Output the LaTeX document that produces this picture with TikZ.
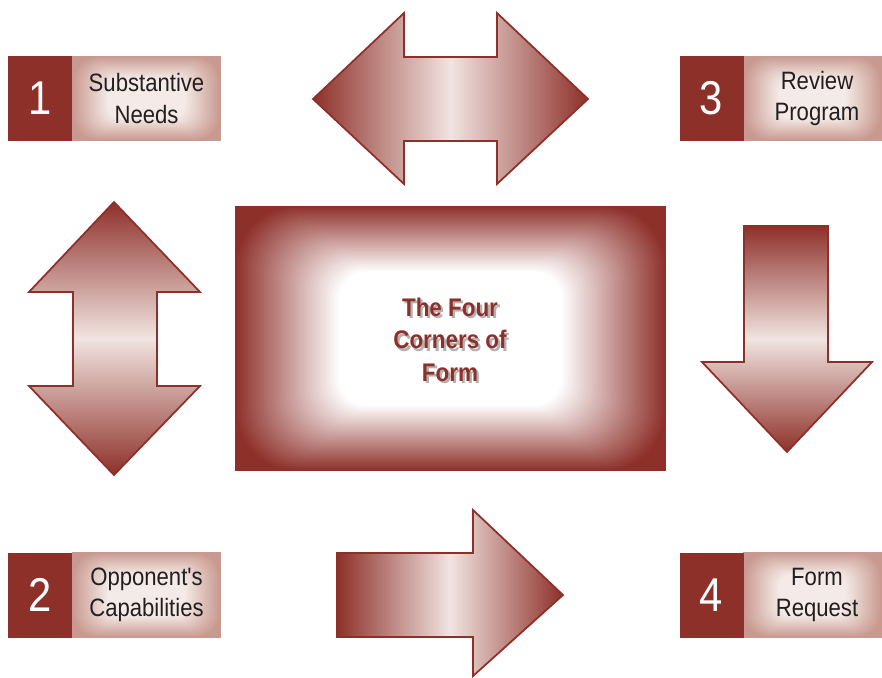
\documentclass[tikz,border=0pt]{standalone}
\usepackage{fontspec}
\usepackage{xcolor}
\usepackage{tikz}
\newfontfamily\narrow[FakeStretch=0.88]{Liberation Sans}
\definecolor{brick}{HTML}{8E302A}
\definecolor{blush}{HTML}{F1E4E0}
\definecolor{rosy}{HTML}{C8998E}
\definecolor{petal}{HTML}{F4EAE7}
\definecolor{ink}{HTML}{231F20}
\tikzset{
  bigarrow/.style={draw=brick, line width=1pt, line join=miter},
  numbox/.style={fill=brick, text=white, inner sep=0pt, minimum width=1.28cm, minimum height=1.7cm, font=\narrow\fontsize{27}{27}\selectfont},
  labeltext/.style={text=ink, align=center, font=\narrow\fontsize{14.3}{18}\selectfont},
  titletext/.style={align=center, font=\narrow\bfseries\fontsize{14.5}{18.5}\selectfont}
}
% rectangle fading from #7 at the rim to #8 inside
% #5/#6 = inset per step, #9 = corner radius (pt) of the outer rings
\newcommand{\glowbox}[9]{%
  \fill[#7] (#1,#2) rectangle (#3,#4);
  \foreach \i [evaluate=\i as \p using 100-1.25*\i, evaluate=\i as \r using #9*(1-\i/150)] in {1,...,80}
    \fill[#7!\p!#8, rounded corners=\r pt] (#1+#5*\i,#2+#6*\i) rectangle (#3-#5*\i,#4-#6*\i);%
}
% text with a soft grey shadow behind it
\newcommand{\soft}[1]{\makebox[0pt][l]{\kern1.3pt\raisebox{-1.3pt}{\color{black!30}#1}}#1}

\begin{document}
\begin{tikzpicture}[x=0.02cm, y=-0.02cm]
      \useasboundingbox (0,0) rectangle (882,677);
      % centre panel
      \glowbox{235}{206}{666}{471}{1.3}{0.82}{brick}{white}{34}
      \node[titletext, text=brick] (core) at (450,341) {\soft{The Four}\\\soft{Corners of}\\\soft{Form}};
      % numbered boxes
      \glowbox{72}{56}{221}{141}{0.45}{0.28}{rosy}{petal}{14}
      \node[numbox] (n1) at (40,98.5) {1};
      \node[labeltext] (l1) at (146.5,98.5) {Substantive\\Needs};
      \glowbox{743}{56}{882}{141}{0.45}{0.28}{rosy}{petal}{14}
      \node[numbox] (n3) at (711.5,98.5) {3};
      \node[labeltext] (l3) at (817,98.5) {Review\\Program};
      \glowbox{72}{552}{221}{638}{0.45}{0.28}{rosy}{petal}{14}
      \node[numbox] (n2) at (40,595) {2};
      \node[labeltext] (l2) at (146.5,595) {Opponent's\\Capabilities};
      \glowbox{743}{552}{882}{638}{0.45}{0.28}{rosy}{petal}{14}
      \node[numbox] (n4) at (711.5,595) {4};
      \node[labeltext] (l4) at (817,595) {Form\\Request};
      % block arrows
      \draw[bigarrow, left color=brick, right color=brick, middle color=blush]
        (313,99) -- (404,13) -- (404,57) -- (497,57) -- (497,13) -- (588,99)
        -- (497,184) -- (497,141) -- (404,141) -- (404,184) -- cycle;
      \draw[bigarrow, top color=brick, bottom color=brick, middle color=blush]
        (114,202) -- (200,292) -- (157,292) -- (157,386) -- (200,386) -- (114,475)
        -- (29,386) -- (73,386) -- (73,292) -- (29,292) -- cycle;
      \draw[bigarrow, top color=brick, bottom color=brick, middle color=blush]
        (744,226) -- (828,226) -- (828,362) -- (872,362) -- (787,452) -- (702,362) -- (744,362) -- cycle;
      \draw[bigarrow, left color=brick, right color=brick, middle color=blush]
        (337,553) -- (473,553) -- (473,510) -- (563,595) -- (473,676) -- (473,637) -- (337,637) -- cycle;
    \end{tikzpicture}
\end{document}
